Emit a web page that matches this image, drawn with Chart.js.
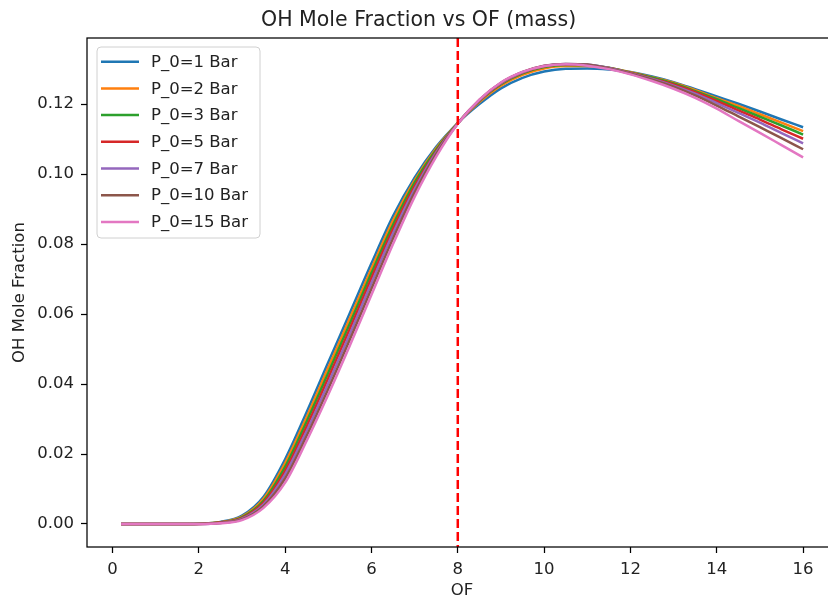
<!DOCTYPE html>
<html><head><meta charset="utf-8">
<script src="https://cdn.jsdelivr.net/npm/chart.js@4/dist/chart.umd.min.js"></script>
<style>
html,body{margin:0;padding:0;background:#fff;overflow:hidden}
#wrap{width:828px;height:601px;overflow:hidden;position:relative;background:#fff}
canvas{display:block}
</style></head>
<body><div id="wrap"><canvas id="c" width="840" height="601" style="width:840px;height:601px"></canvas></div>
<script>
const ofValues = [0.2,0.5,1,1.5,2,2.5,3,3.5,4,4.5,5,5.5,6,6.5,7,7.5,8,8.5,9,9.5,10,10.5,11,11.5,12,12.5,13,13.5,14,14.5,15,15.5,16];
const ohP1  = [0,0,0,0,0.0001,0.0006,0.0024,0.0078,0.0185,0.0320,0.0462,0.0603,0.0745,0.0880,0.0990,0.1078,0.1146,0.1200,0.1245,0.1275,0.1293,0.1301,0.1302,0.1299,0.1292,0.1279,0.1263,0.1243,0.1222,0.1201,0.1179,0.1156,0.1134];
const ohP2  = [0,0,0,0,0.0001,0.0005,0.0021,0.0072,0.0174,0.0306,0.0447,0.0588,0.0730,0.0867,0.0982,0.1074,0.1146,0.1206,0.1253,0.1284,0.1302,0.1309,0.1309,0.1303,0.1291,0.1277,0.1261,0.1240,0.1217,0.1195,0.1171,0.1147,0.1123];
const ohP3  = [0,0,0,0,0.0001,0.0004,0.0019,0.0066,0.0163,0.0293,0.0432,0.0573,0.0717,0.0855,0.0976,0.1070,0.1146,0.1209,0.1257,0.1288,0.1306,0.1312,0.1311,0.1304,0.1290,0.1276,0.1259,0.1237,0.1214,0.1189,0.1164,0.1139,0.1113];
const ohP5  = [0,0,0,0,0,0.0004,0.0017,0.0061,0.0152,0.0279,0.0417,0.0558,0.0703,0.0843,0.0966,0.1065,0.1145,0.1210,0.1259,0.1290,0.1308,0.1314,0.1312,0.1303,0.1289,0.1273,0.1256,0.1234,0.1209,0.1182,0.1156,0.1128,0.1101];
const ohP7  = [0,0,0,0,0,0.0003,0.0015,0.0056,0.0142,0.0266,0.0402,0.0543,0.0689,0.0831,0.0957,0.1062,0.1145,0.1211,0.1260,0.1291,0.1309,0.1315,0.1313,0.1303,0.1288,0.1272,0.1253,0.1230,0.1203,0.1175,0.1147,0.1117,0.1088];
const ohP10 = [0,0,0,0,0,0.0003,0.0013,0.0051,0.0130,0.0252,0.0386,0.0527,0.0672,0.0816,0.0947,0.1057,0.1145,0.1212,0.1261,0.1292,0.1310,0.1315,0.1313,0.1302,0.1287,0.1270,0.1250,0.1225,0.1196,0.1165,0.1134,0.1103,0.1071];
const ohP15 = [0,0,0,0,0,0.0002,0.0011,0.0046,0.0118,0.0238,0.0370,0.0510,0.0655,0.0800,0.0935,0.1050,0.1144,0.1213,0.1262,0.1292,0.1309,0.1314,0.1310,0.1300,0.1285,0.1266,0.1244,0.1218,0.1187,0.1152,0.1118,0.1083,0.1048];
const seriesLabels = ['P_0=1 Bar','P_0=2 Bar','P_0=3 Bar','P_0=5 Bar','P_0=7 Bar','P_0=10 Bar','P_0=15 Bar'];
const seriesValues = [ohP1, ohP2, ohP3, ohP5, ohP7, ohP10, ohP15];
const seriesColors = ['#1f77b4','#ff7f0e','#2ca02c','#d62728','#9467bd','#8c564b','#e377c2'];
const xTicks = [0,2,4,6,8,10,12,14,16];
const yTicks = [0,0.02,0.04,0.06,0.08,0.10,0.12];
const markerOF = 8;

const FONT = 'DejaVu Sans';
const TXT = '#222';

const datasets = seriesValues.map((vals, i) => ({
  label: seriesLabels[i],
  data: ofValues.map((x, j) => ({x: x, y: vals[j]})),
  borderColor: seriesColors[i],
  backgroundColor: seriesColors[i],
  borderWidth: 2.5,
  pointRadius: 0,
  fill: false,
  cubicInterpolationMode: 'monotone',
  order: seriesValues.length - i
}));

const overlay = {
  id: 'overlay',
  afterDatasetsDraw(chart) {
    const ctx = chart.ctx, ca = chart.chartArea;
    const xs = chart.scales.x;
    ctx.save();
    const vx = xs.getPixelForValue(markerOF);
    ctx.strokeStyle = '#ff0000';
    ctx.lineWidth = 2.5;
    ctx.setLineDash([9, 4]);
    ctx.beginPath();
    ctx.moveTo(vx, ca.top);
    ctx.lineTo(vx, ca.bottom);
    ctx.stroke();
    ctx.setLineDash([]);
    ctx.strokeStyle = '#000';
    ctx.lineWidth = 1.25;
    ctx.strokeRect(ca.left, ca.top, ca.right - ca.left, ca.bottom - ca.top);
    const bx = ca.left + 10, by = ca.top + 9, bw = 163, bh = 191, r = 4;
    ctx.fillStyle = 'rgba(255,255,255,0.85)';
    ctx.strokeStyle = '#d0d0d0';
    ctx.lineWidth = 1;
    ctx.beginPath();
    ctx.moveTo(bx + r, by);
    ctx.lineTo(bx + bw - r, by);
    ctx.quadraticCurveTo(bx + bw, by, bx + bw, by + r);
    ctx.lineTo(bx + bw, by + bh - r);
    ctx.quadraticCurveTo(bx + bw, by + bh, bx + bw - r, by + bh);
    ctx.lineTo(bx + r, by + bh);
    ctx.quadraticCurveTo(bx, by + bh, bx, by + bh - r);
    ctx.lineTo(bx, by + r);
    ctx.quadraticCurveTo(bx, by, bx + r, by);
    ctx.closePath();
    ctx.fill();
    ctx.stroke();
    ctx.font = '16.5px "' + FONT + '"';
    ctx.textBaseline = 'middle';
    ctx.textAlign = 'left';
    chart.data.datasets.forEach((ds, i) => {
      const yy = by + 14.7 + i * 26.7;
      ctx.strokeStyle = ds.borderColor;
      ctx.lineWidth = 2.5;
      ctx.beginPath();
      ctx.moveTo(bx + 4, yy);
      ctx.lineTo(bx + 42, yy);
      ctx.stroke();
      ctx.fillStyle = TXT;
      ctx.fillText(ds.label, bx + 54, yy + 1);
    });
    ctx.restore();
  }
};

new Chart(document.getElementById('c'), {
  type: 'line',
  data: { datasets: datasets },
  options: {
    responsive: false,
    devicePixelRatio: 1,
    animation: false,
    events: [],
    layout: { padding: { left: 0, right: 2.8, top: 0, bottom: 0 } },
    plugins: {
      legend: { display: false },
      tooltip: { enabled: false },
      title: {
        display: true,
        text: 'OH Mole Fraction vs OF (mass)',
        color: TXT,
        font: { family: FONT, size: 20.5, weight: 'normal', lineHeight: 1.2 },
        padding: { top: 8, bottom: 5.4 }
      }
    },
    scales: {
      x: {
        type: 'linear',
        min: -0.59,
        max: 16.79,
        afterBuildTicks: s => { s.ticks = xTicks.map(v => ({ value: v })); },
        afterFit: s => { s.height = 54; },
        ticks: {
          callback: v => String(v),
          color: TXT,
          font: { family: FONT, size: 16.5 },
          padding: 7,
          maxRotation: 0,
          autoSkip: false
        },
        grid: { display: true, drawOnChartArea: false, drawTicks: true, tickLength: 6, tickWidth: 1.25, tickColor: '#000' },
        border: { display: false },
        title: { display: true, text: 'OF', color: TXT, font: { family: FONT, size: 16.5, lineHeight: 1.2 }, padding: { top: 0, bottom: 0 } }
      },
      y: {
        type: 'linear',
        min: -0.00658,
        max: 0.1389,
        afterBuildTicks: s => { s.ticks = yTicks.map(v => ({ value: v })); },
        afterFit: s => { s.width = 87; },
        ticks: {
          callback: v => Number(v).toFixed(2),
          color: TXT,
          font: { family: FONT, size: 16.5 },
          padding: 7,
          autoSkip: false
        },
        grid: { display: true, drawOnChartArea: false, drawTicks: true, tickLength: 6, tickWidth: 1.25, tickColor: '#000' },
        border: { display: false },
        title: { display: true, text: 'OH Mole Fraction', color: TXT, font: { family: FONT, size: 16.5, lineHeight: 1.2 }, padding: { top: 10, bottom: 0 } }
      }
    }
  },
  plugins: [overlay]
});
</script>
</body></html>
